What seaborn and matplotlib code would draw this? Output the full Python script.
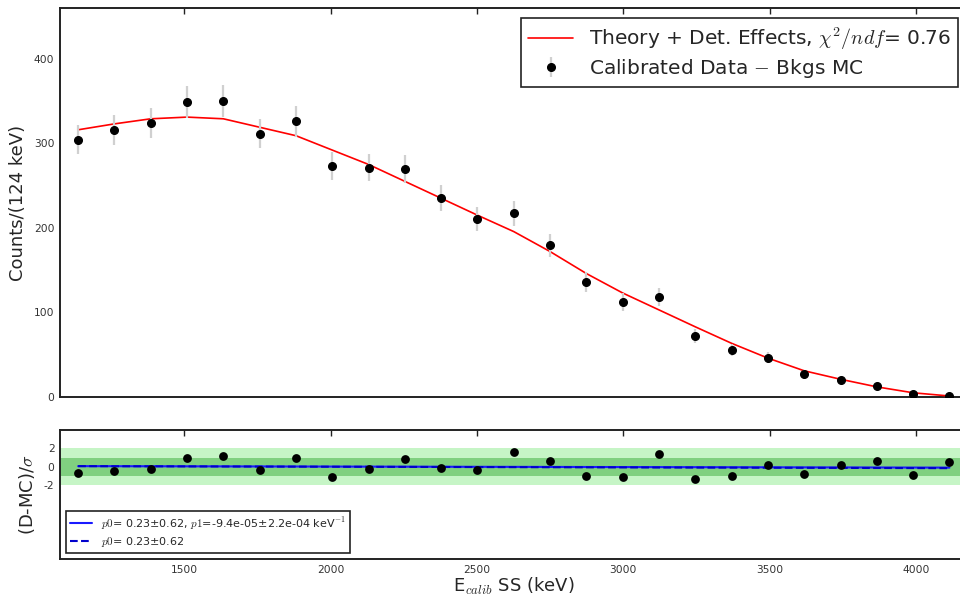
import numpy as np
import pandas as pd
import matplotlib
matplotlib.use("Agg")
import matplotlib.pyplot as plt
import seaborn as sns

# ---- data ----
energy = [1138, 1262, 1386, 1510, 1634, 1758, 1882, 2006, 2130, 2254, 2378, 2502,
          2626, 2750, 2874, 2998, 3122, 3246, 3370, 3494, 3618, 3742, 3866, 3990, 4114]
counts = [304.5, 315.6, 324.3, 348.7, 349.9, 311.6, 325.8, 273.4, 271.4, 269.4, 235.5, 210.7,
          217.4, 179.5, 135.7, 112.8, 118.0, 71.8, 55.6, 46.5, 26.8, 19.7, 13.0, 3.2, 1.6]
count_err = [17.5, 17.8, 18.0, 18.7, 18.7, 17.7, 18.0, 16.5, 16.5, 16.4, 15.3, 14.5,
             14.7, 13.4, 11.7, 10.6, 10.9, 8.5, 7.5, 6.8, 5.2, 4.4, 3.6, 1.8, 1.3]
theory = [316, 323, 329, 331, 329, 319, 309, 292, 275, 255, 235, 215,
          195.6, 172, 146, 123, 103, 83, 63.5, 46, 31, 21, 12, 5, 1.2]
residual = [-0.65, -0.46, -0.25, 0.97, 1.19, -0.36, 0.97, -1.15, -0.25, 0.83, -0.07, -0.36,
            1.59, 0.65, -1.0, -1.08, 1.37, -1.3, -1.0, 0.18, -0.76, 0.18, 0.61, -0.93, 0.54]
line_x = [1138, 4114]
lin_fit = [0.08, -0.08]
const_fit = [0.08, -0.14]

xticks = [1500, 2000, 2500, 3000, 3500, 4000]
yticks_top = [0, 100, 200, 300, 400]
yticks_bot = [-10, -8, -6, -4, -2, 0, 2, 4]
ytick_bot_labels = ["", "", "", "", "-2", "0", "2", ""]

lbl_theory = r"Theory + Det. Effects, $\chi^2/ndf$= 0.76"
lbl_data = r"Calibrated Data $-$ Bkgs MC"
lbl_lin = r"$p0$= 0.23±0.62, $p1$=-9.4e-05±2.2e-04 keV$^{-1}$"
lbl_const = r"$p0$= 0.23±0.62"

# ---- style ----
sns.set_style("white")
plt.rcParams["font.family"] = ["DejaVu Sans"]
plt.rcParams["mathtext.fontset"] = "cm"
plt.rcParams["mathtext.default"] = "it"

df = pd.DataFrame({"E": energy, "counts": counts, "err": count_err,
                   "theory": theory, "res": residual})
dfl = pd.DataFrame({"E": line_x, "lin": lin_fit, "const": const_fit})

fig = plt.figure(figsize=(9.6, 5.98), dpi=100)
ax1 = fig.add_axes([0.0625, 0.3361, 0.9454, 0.6505])
ax2 = fig.add_axes([0.0625, 0.0652, 0.9454, 0.2157])

xlim = (1076, 4176)

# ---- top panel ----
sns.lineplot(data=df, x="E", y="theory", ax=ax1, color="red", lw=1.2,
             label=lbl_theory, zorder=3)
ax1.errorbar(df["E"], df["counts"], yerr=df["err"], fmt="o", color="black",
             ecolor="#d0d0d0", elinewidth=1.6, capsize=0, markersize=5.5,
             label=lbl_data, zorder=4)
ax1.set_xlim(*xlim)
ax1.set_ylim(0, 460)
ax1.set_xticks(xticks)
ax1.set_yticks(yticks_top)
ax1.tick_params(labelbottom=False)
ax1.set_xlabel("")
ax1.set_ylabel("Counts/(124 keV)", fontsize=13)
ax1.yaxis.set_label_coords(-0.036, 0.5)
leg1 = ax1.legend(loc="upper right", fontsize=14.5, frameon=True, fancybox=False,
                  framealpha=1, edgecolor="#222222", handlelength=2.2, borderpad=0.35,
                  labelspacing=0.25)
leg1.get_frame().set_linewidth(1.2)

# ---- bottom panel ----
ax2.axhspan(-2, 2, color="#c6f5c6", lw=0, zorder=0)
ax2.axhspan(-1, 1, color="#80d080", lw=0, zorder=0.5)
sns.lineplot(data=dfl, x="E", y="lin", ax=ax2, color="#1a1aff", lw=1.5,
             label=lbl_lin, zorder=2)
sns.lineplot(data=dfl, x="E", y="const", ax=ax2, color="#0000cc", lw=1.5,
             linestyle="--", label=lbl_const, zorder=2.5)
sns.scatterplot(data=df, x="E", y="res", ax=ax2, color="black", s=40,
                edgecolor="black", linewidth=0, zorder=4)
ax2.set_xlim(*xlim)
ax2.set_ylim(-10, 4)
ax2.set_xticks(xticks)
ax2.set_xticklabels([str(t) for t in xticks])
ax2.set_yticks(yticks_bot)
ax2.set_yticklabels(ytick_bot_labels)
ax2.set_xlabel(r"E$_{calib}$ SS (keV)", fontsize=13)
ax2.xaxis.set_label_coords(0.5, -0.135)
ax2.set_ylabel(r"(D-MC)/$\sigma$", fontsize=13)
ax2.yaxis.set_label_coords(-0.025, 0.5)
leg2 = ax2.legend(loc="lower left", fontsize=8, frameon=True, fancybox=False,
                  framealpha=1, edgecolor="#222222", borderpad=0.4, labelspacing=0.3)
leg2.get_frame().set_linewidth(1.2)

for ax in (ax1, ax2):
    for s in ax.spines.values():
        s.set_color("#222222")
        s.set_linewidth(1.4)
    ax.tick_params(direction="in", top=True, right=True, length=4, width=1,
                   colors="#222222", labelsize=7.7, labelcolor="#333333", pad=4)

fig.savefig("out.png", dpi=100)
